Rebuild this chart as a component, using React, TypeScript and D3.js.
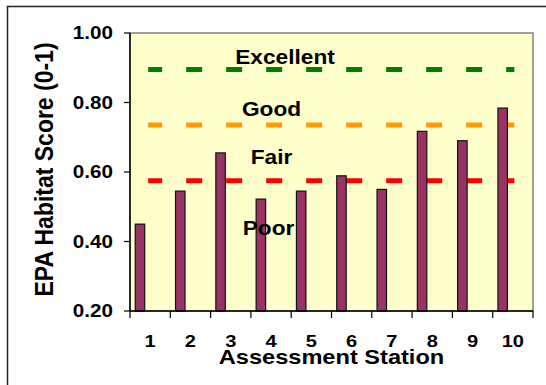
import React from "react";
import * as d3 from "d3";

// Stations and their habitat scores
const stations: string[] = ["1", "2", "3", "4", "5", "6", "7", "8", "9", "10"];
const scores: number[] = [0.45, 0.545, 0.655, 0.522, 0.545, 0.589, 0.55, 0.717, 0.69, 0.784];

// Condition class thresholds
const thresholdNames: string[] = ["Excellent", "Good", "Fair"];
const thresholdValues: number[] = [0.895, 0.735, 0.575];
const thresholdColors: string[] = ["#008000", "#FF9900", "#FF0000"];

// Condition class labels and their y positions (score units)
const classLabels: string[] = ["Excellent", "Good", "Fair", "Poor"];
const classLabelValues: number[] = [0.912, 0.762, 0.623, 0.42];

const yTicks: number[] = [0.2, 0.4, 0.6, 0.8, 1.0];

const W = 546;
const H = 385;
const plot = { left: 130, right: 533, top: 33, bottom: 311 };
const FONT = "Arial, 'Liberation Sans', Helvetica, sans-serif";

export default function App() {
  const x = d3
    .scaleBand<string>()
    .domain(stations)
    .range([plot.left, plot.right])
    .paddingInner(0)
    .paddingOuter(0);
  const y = d3.scaleLinear().domain([0.2, 1.0]).range([plot.bottom, plot.top]);
  const bw = x.bandwidth();
  const cx = (s: string) => (x(s) as number) + bw / 2;

  const tickSx = 1.18;
  const titleSx = 1.18;

  return (
    <svg
      width={W}
      height={H}
      style={{ position: "absolute", left: 0, top: 0, background: "#fff" }}
      fontFamily={FONT}
    >
      {/* outer chart frame */}
      <rect x={7.5} y={6.5} width={700} height={500} fill="#fff" stroke="#222" strokeWidth={1.5} />

      {/* plot area */}
      <rect
        x={plot.left}
        y={plot.top}
        width={plot.right - plot.left}
        height={plot.bottom - plot.top}
        fill="#FFFFCC"
        stroke="#808080"
        strokeWidth={1.5}
      />

      {/* threshold lines */}
      {thresholdValues.map((v, i) => (
        <line
          key={thresholdNames[i]}
          x1={cx(stations[0]) - 2}
          x2={cx(stations[stations.length - 1]) + 1.5}
          y1={y(v)}
          y2={y(v)}
          stroke={thresholdColors[i]}
          strokeWidth={5}
          strokeDasharray="16 24"
          strokeDashoffset={2}
        />
      ))}

      {/* bars */}
      {stations.map((s, i) => (
        <rect
          key={s}
          x={(x(s) as number) + bw * 0.13}
          y={y(scores[i])}
          width={bw * 0.235}
          height={y(0.2) - y(scores[i])}
          fill="#993366"
          stroke="#111"
          strokeWidth={1.2}
        />
      ))}

      {/* axes */}
      <line x1={plot.left} x2={plot.left} y1={plot.top} y2={plot.bottom} stroke="#000" strokeWidth={1.5} />
      <line x1={plot.left} x2={plot.right} y1={plot.bottom} y2={plot.bottom} stroke="#000" strokeWidth={1.5} />

      {/* y ticks */}
      {yTicks.map((t) => (
        <g key={t}>
          <line x1={plot.left - 6} x2={plot.left} y1={y(t)} y2={y(t)} stroke="#000" strokeWidth={1.2} />
          <text
            transform={`translate(${plot.left - 17},${y(t) + 6.2}) scale(${tickSx},1)`}
            textAnchor="end"
            fontSize={17.5}
            fontWeight="bold"
            fill="#000"
          >
            {d3.format(".2f")(t)}
          </text>
        </g>
      ))}

      {/* x ticks at category boundaries */}
      {stations.map((s) => (
        <line
          key={"t" + s}
          x1={x(s) as number}
          x2={x(s) as number}
          y1={plot.bottom}
          y2={plot.bottom + 7}
          stroke="#000"
          strokeWidth={1.2}
        />
      ))}
      <line x1={plot.right} x2={plot.right} y1={plot.bottom} y2={plot.bottom + 7} stroke="#000" strokeWidth={1.2} />

      {stations.map((s) => (
        <text
          key={"l" + s}
          transform={`translate(${cx(s)},${346.8}) scale(${tickSx},1)`}
          textAnchor="middle"
          fontSize={17}
          fontWeight="bold"
          fill="#000"
        >
          {s}
        </text>
      ))}

      {/* class labels */}
      {classLabels.map((c, i) => (
        <text
          key={c}
          transform={`translate(${i === 0 ? 285 : i === 3 ? 268.5 : 271.5},${y(classLabelValues[i])}) scale(1.08,1)`}
          textAnchor="middle"
          fontSize={21}
          fontWeight="bold"
          fill="#000"
        >
          {c}
        </text>
      ))}

      {/* axis titles */}
      <text
        transform={`translate(${(plot.left + plot.right) / 2},363.5) scale(${titleSx},1)`}
        textAnchor="middle"
        fontSize={20}
        fontWeight="bold"
        fill="#000"
      >
        Assessment Station
      </text>
      <text
        transform={`translate(52.5,169.5) rotate(-90) scale(1,1.1)`}
        textAnchor="middle"
        fontSize={23}
        fontWeight="bold"
        fill="#000"
      >
        EPA Habitat Score (0-1)
      </text>
    </svg>
  );
}
